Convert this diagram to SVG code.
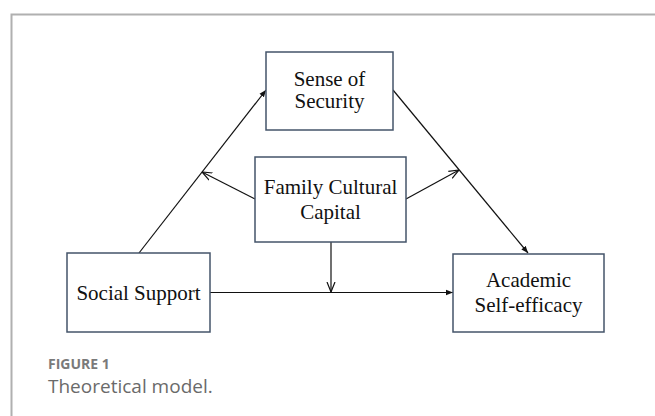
<svg xmlns="http://www.w3.org/2000/svg" width="655" height="416" viewBox="0 0 655 416">
  <style>
    .box { fill: #ffffff; stroke: #44546a; stroke-width: 1.5; }
    .lbl { font-family: "Liberation Serif", "Times New Roman", serif; font-size: 21px; fill: #111; text-anchor: middle; }
    .edge { fill: none; stroke: #111; stroke-width: 1.2; }
    .cap1 { font-family: "Open Sans", "Liberation Sans", sans-serif; font-size: 14px; font-weight: 700; fill: #7a7a7a; }
    .cap2 { font-family: "Open Sans", "Liberation Sans", sans-serif; font-size: 19px; fill: #6a6a6a; }
  </style>
  <defs>
    <marker id="solid" viewBox="0 0 10 10" refX="10" refY="5" markerWidth="7" markerHeight="7" orient="auto" markerUnits="userSpaceOnUse">
      <path d="M0,1 L10,5 L0,9 Z" fill="#111"/>
    </marker>
    <marker id="open" viewBox="0 0 10 10" refX="10" refY="5" markerWidth="10" markerHeight="10" orient="auto" markerUnits="userSpaceOnUse">
      <path d="M0,1 L10,5 L0,9" fill="none" stroke="#111" stroke-width="1.2"/>
    </marker>
  </defs>

  <rect width="655" height="416" fill="#ffffff"/>
  <!-- outer frame -->
  <path d="M11.5,420 L11.5,14.5 L660,14.5" fill="none" stroke="#b0b0b0" stroke-width="2"/>

  <g id="connectors">
    <line class="edge" x1="139" y1="253" x2="266" y2="90" marker-end="url(#solid)"/>
    <line class="edge" x1="393" y1="90" x2="528" y2="253" marker-end="url(#solid)"/>
    <line class="edge" x1="210" y1="292.5" x2="453" y2="292.5" marker-end="url(#solid)"/>
    <line class="edge" x1="255" y1="199" x2="202" y2="172" marker-end="url(#open)"/>
    <line class="edge" x1="406" y1="199" x2="459" y2="170" marker-end="url(#open)"/>
    <line class="edge" x1="331" y1="242" x2="331" y2="292" marker-end="url(#open)"/>
  </g>

  <g id="sense-of-security">
    <rect class="box" x="266" y="52" width="127" height="78"/>
    <text class="lbl" x="329.5" y="86">Sense of</text>
    <text class="lbl" x="329.5" y="108">Security</text>
  </g>

  <g id="family-cultural-capital">
    <rect class="box" x="255" y="157" width="151" height="85"/>
    <text class="lbl" x="330.5" y="194">Family Cultural</text>
    <text class="lbl" x="330.5" y="219">Capital</text>
  </g>

  <g id="social-support">
    <rect class="box" x="67" y="253" width="143" height="79"/>
    <text class="lbl" x="138.5" y="300">Social Support</text>
  </g>

  <g id="academic-self-efficacy">
    <rect class="box" x="453" y="254" width="151" height="78"/>
    <text class="lbl" x="528.5" y="287">Academic</text>
    <text class="lbl" x="528.5" y="312">Self-efficacy</text>
  </g>

  <text class="cap1" x="48" y="369">FIGURE 1</text>
  <text class="cap2" x="48" y="393">Theoretical model.</text>
</svg>
